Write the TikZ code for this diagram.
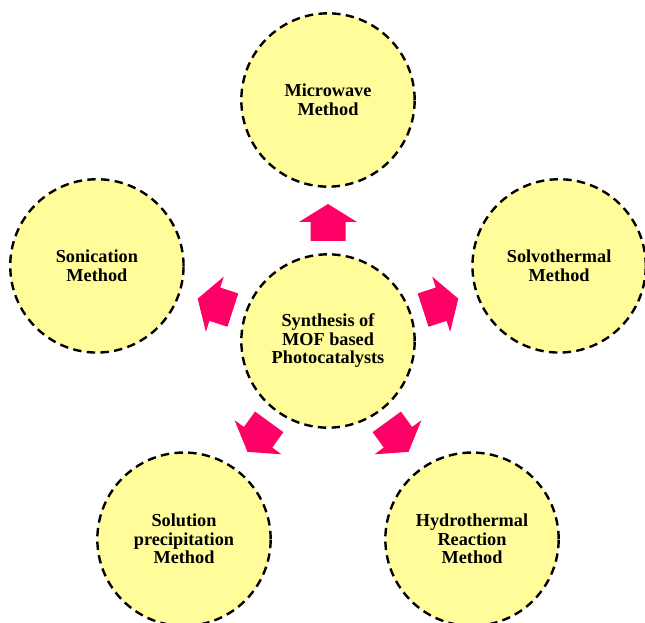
\documentclass[tikz,border=0pt]{standalone}
\usepackage{fontspec}
\setmainfont{Liberation Serif}
\definecolor{circfill}{HTML}{FFFC99}
\definecolor{arrowpink}{HTML}{FF0066}
\tikzset{
  method/.style={circle, draw=black, fill=circfill, line width=1.8pt,
    dash pattern=on 6.3pt off 4pt, minimum size=130pt, inner sep=0pt,
    align=center, font=\bfseries\fontsize{13.7}{13.9}\selectfont},
  blockarrow/.style={fill=arrowpink, draw=none}
}
\begin{document}
\begin{tikzpicture}[x=0.75pt, y=0.75pt]
\useasboundingbox (-328,-282) rectangle (317,341);
\clip (-328,-282) rectangle (317,341);
\node[method] (center) at (0,0) {Synthesis of\\MOF based\\Photocatalysts};
\node[method] (micro) at (90:241) {Microwave\\Method};
\node[method] (soni) at (162:243) {Sonication\\Method};
\node[method] (solvo) at (18:243) {Solvothermal\\Method};
\node[method] (solu) at (234:245) {Solution\\precipitation\\Method};
\node[method] (hydro) at (306:245) {Hydrothermal\\Reaction\\Method};
\foreach \ang in {90,162,18,234,306}{
  \begin{scope}[rotate=\ang]
    \fill[blockarrow] (100,-17.5) -- (119,-17.5) -- (119,-29) -- (137,0)
      -- (119,29) -- (119,17.5) -- (100,17.5) -- cycle;
  \end{scope}
}
\end{tikzpicture}
\end{document}
